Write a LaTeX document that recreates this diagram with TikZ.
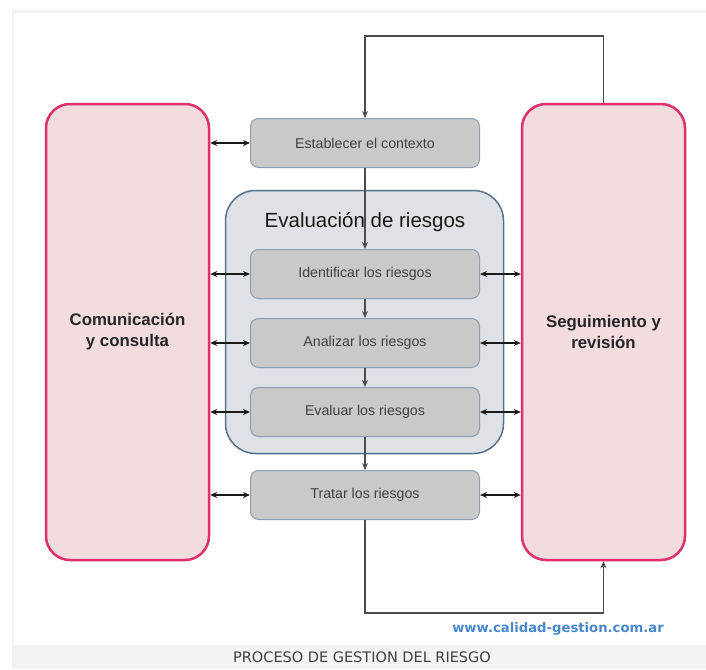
\documentclass[tikz,border=0pt]{standalone}
\usepackage{fontspec}
\setmainfont{Liberation Sans}
\newfontfamily\webfont{DejaVu Sans}
\usetikzlibrary{arrows.meta, positioning}
\definecolor{pinkfill}{HTML}{F2DCDD}
\definecolor{pinkline}{HTML}{E0306B}
\definecolor{boxfill}{HTML}{C9C9C9}
\definecolor{boxline}{HTML}{8E9DB0}
\definecolor{evalfill}{HTML}{DEE1E5}
\definecolor{evalline}{HTML}{56728F}
\definecolor{webblue}{HTML}{4A88CC}
\definecolor{band}{HTML}{F3F3F3}

\begin{document}
\begin{tikzpicture}[x=1pt,y=-1pt,>={Stealth[length=7pt,width=6pt]}]
    \tikzstyle{side}=[draw=pinkline, fill=pinkfill, line width=2.5pt, rounded corners=24pt, minimum width=163pt, minimum height=456pt, align=center, text=black!85, font=\fontsize{16.8}{21}\selectfont\bfseries]
    \tikzstyle{stepbox}=[draw=boxline, fill=boxfill, line width=1pt, rounded corners=8pt, minimum width=229pt, minimum height=49pt, text=black!75, font=\fontsize{14.2}{17}\selectfont]
    \tikzstyle{group}=[draw=evalline, fill=evalfill, line width=1.5pt, rounded corners=30pt, minimum width=278pt, minimum height=263pt]
    \tikzstyle{link}=[->, draw=black!70, line width=1.2pt]
    \tikzstyle{both}=[<->, draw=black!90, line width=1.2pt]

    \useasboundingbox (0,0) rectangle (706,669);
    \fill[white] (0,0) rectangle (706,669);
    \fill[band] (12,10) rectangle (706,13);
    \fill[band] (12,13) rectangle (14,645);
    \fill[band] (12,645) rectangle (706,669);

    % side blocks
    \node[side] (com) at (127.5,332) {Comunicación\\y consulta};
    \node[side] (seg) at (603.5,332) {Seguimiento y\\revisión};

    % risk assessment group
    \node[group] (grp) at (364.5,322) {};
    \node[text=black!90, font=\fontsize{20.5}{24}\selectfont] (grptitle) at (365,222) {Evaluación de riesgos};

    % process steps
    \node[stepbox] (est) at (365,143) {Establecer el contexto};
    \node[stepbox] (ide) at (365,274) {Identificar los riesgos};
    \node[stepbox] (ana) at (365,343) {Analizar los riesgos};
    \node[stepbox] (eva) at (365,412) {Evaluar los riesgos};
    \node[stepbox] (tra) at (365,495) {Tratar los riesgos};

    \coordinate (topturn) at (365,36);
    \coordinate (botturn) at (365,613);

    \draw[link] (seg.north) |- (topturn) -- (est.north);
    \draw[link] (est.south) -- (ide.north);
    \draw[link] (ide.south) -- (ana.north);
    \draw[link] (ana.south) -- (eva.north);
    \draw[link] (eva.south) -- (tra.north);
    \draw[link] (tra.south) -- (botturn) -| (seg.south);

    \foreach \b in {est,ide,ana,eva,tra}
        \draw[both] (com.east |- \b.west) -- (\b.west);
    \foreach \b in {ide,ana,eva,tra}
        \draw[both] (\b.east) -- (seg.west |- \b.east);

    \node[text=webblue, font=\webfont\bfseries\fontsize{13.2}{15}\selectfont] (web) at (558,629) {www.calidad-gestion.com.ar};
    \node[text=black!75, font=\webfont\fontsize{14.5}{16}\selectfont] (caption) at (362,657) {PROCESO DE GESTION DEL RIESGO};
\end{tikzpicture}
\end{document}
